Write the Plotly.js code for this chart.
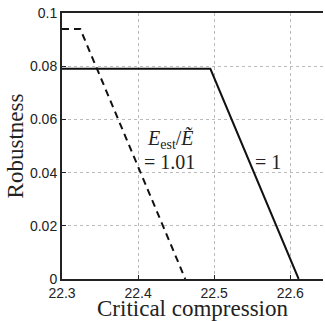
<!DOCTYPE html>
<html><head><meta charset="utf-8">
<script src="https://cdn.plot.ly/plotly-3.0.1.min.js"></script>
<style>body{margin:0;background:#fff}#c{width:325px;height:321px}</style>
</head><body><div id="c"></div>
<script>
const solidX = [22.3, 22.495, 22.611];
const solidY = [0.079, 0.079, 0];
const dashX = [22.3, 22.324, 22.462];
const dashY = [0.094, 0.094, 0];
const xTicks = [22.3, 22.4, 22.5, 22.6];
const xTickText = ['22.3', '22.4', '22.5', '22.6'];
const yTicks = [0, 0.02, 0.04, 0.06, 0.08, 0.1];
const yTickText = ['0', '0.02', '0.04', '0.06', '0.08', '0.1'];

const traces = [
  {x: solidX, y: solidY, mode: 'lines', line: {color: '#111', width: 2}, hoverinfo: 'skip'},
  {x: dashX, y: dashY, mode: 'lines', line: {color: '#111', width: 2, dash: '7px,5px'}, hoverinfo: 'skip'}
];
const serif = 'Liberation Serif, DejaVu Serif, serif';
const sans = 'Liberation Sans, Arial, sans-serif';
const layout = {
  width: 325, height: 321, showlegend: false,
  paper_bgcolor: '#fff', plot_bgcolor: '#fff',
  margin: {l: 62, r: 2, t: 13, b: 42},
  xaxis: {
    range: [22.3, 22.643], tickvals: xTicks, ticktext: xTickText,
    showgrid: true, gridcolor: '#bbb', griddash: 'dot', gridwidth: 1,
    showline: true, linecolor: '#222', linewidth: 2, mirror: true,
    ticks: 'inside', ticklen: 4, tickcolor: '#222', zeroline: false,
    tickfont: {family: sans, size: 14, color: '#222'},
    title: {text: 'Critical compression', font: {family: serif, size: 23, color: '#222'}, standoff: 3}
  },
  yaxis: {
    range: [0, 0.1], tickvals: yTicks, ticktext: yTickText,
    showgrid: true, gridcolor: '#bbb', griddash: 'dot', gridwidth: 1,
    showline: true, linecolor: '#222', linewidth: 2, mirror: false,
    ticks: 'inside', ticklen: 4, tickcolor: '#222', zeroline: false,
    tickfont: {family: sans, size: 14, color: '#222'},
    title: {text: 'Robustness', font: {family: serif, size: 23, color: '#222'}, standoff: 0}
  },
  annotations: [
    {x: 22.443, y: 0.0525, xref: 'x', yref: 'y', showarrow: false,
     text: '<i>E</i><sub>est</sub>/<i>Ẽ</i>', font: {family: serif, size: 20, color: '#222'}},
    {x: 22.441, y: 0.0438, xref: 'x', yref: 'y', showarrow: false,
     text: '= 1.01', font: {family: serif, size: 20, color: '#222'}},
    {x: 22.571, y: 0.0438, xref: 'x', yref: 'y', showarrow: false,
     text: '= 1', font: {family: serif, size: 20, color: '#222'}}
  ]
};
Plotly.newPlot('c', traces, layout, {displayModeBar: false, staticPlot: true});
</script></body></html>
